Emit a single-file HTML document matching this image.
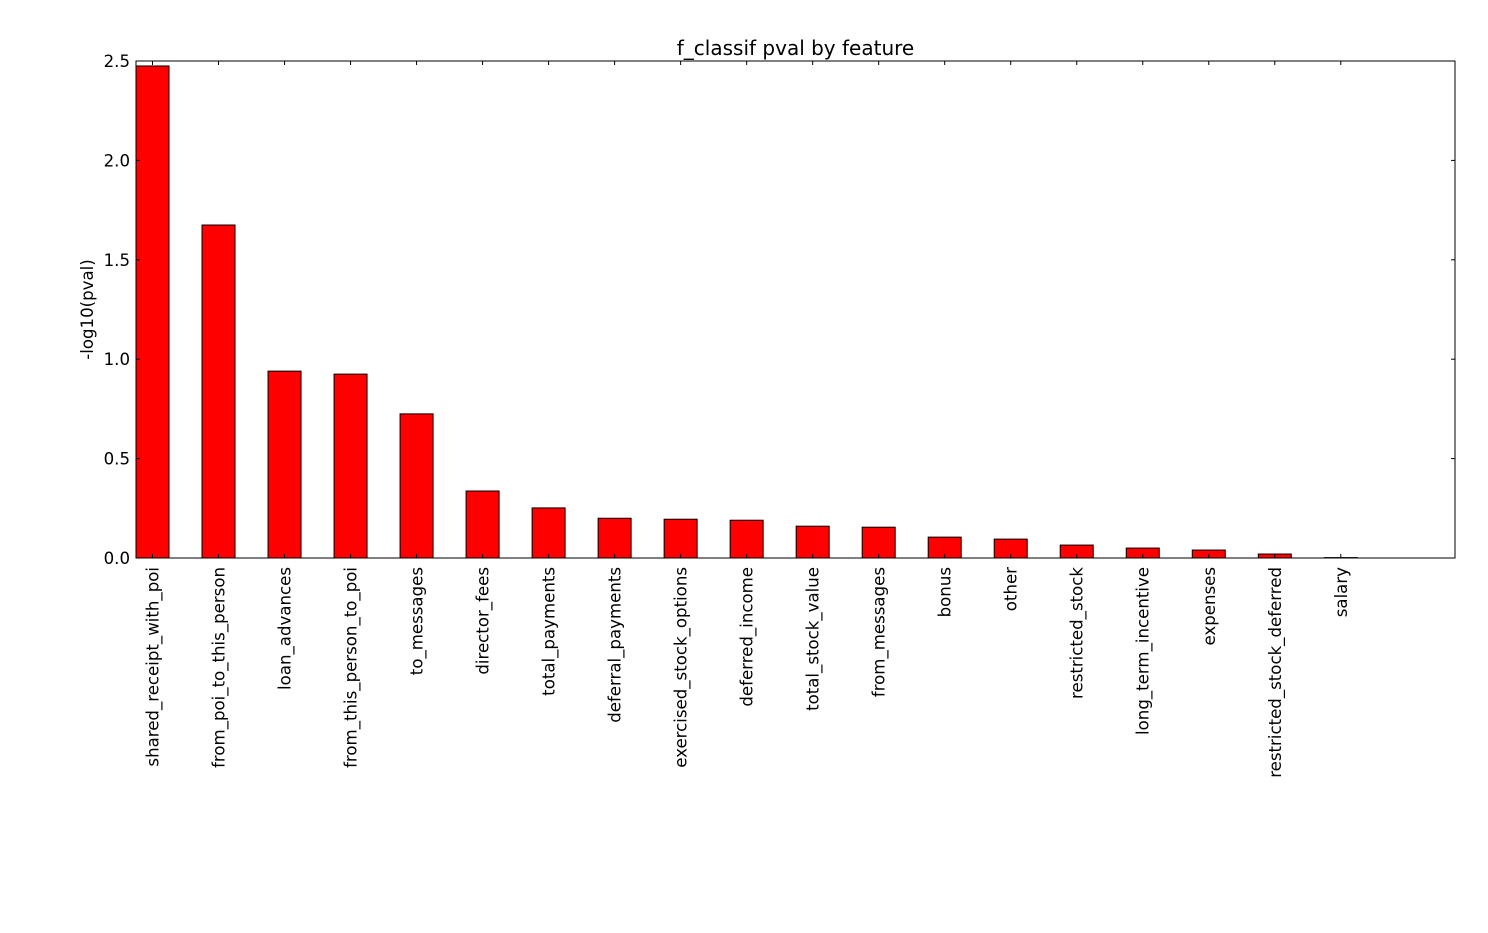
<!DOCTYPE html>
<html><head><meta charset="utf-8"><style>
body{margin:0;background:#fff}
svg text{font-family:"DejaVu Sans","Liberation Sans",sans-serif;fill:#000}
</style></head><body>
<svg width="1488" height="928">
<g id="plot"></g>
</svg>
<script>
const categories=["shared_receipt_with_poi","from_poi_to_this_person","loan_advances","from_this_person_to_poi","to_messages","director_fees","total_payments","deferral_payments","exercised_stock_options","deferred_income","total_stock_value","from_messages","bonus","other","restricted_stock","long_term_incentive","expenses","restricted_stock_deferred","salary"];
const values=[2.475,1.675,0.94,0.925,0.725,0.337,0.252,0.20,0.195,0.19,0.16,0.155,0.105,0.095,0.065,0.05,0.04,0.02,0.002];
const yTicks=[0,0.5,1,1.5,2,2.5];
const yTickLabels=["0.0","0.5","1.0","1.5","2.0","2.5"];
const L=136,R=1455,T=61,B=558;
const xMin=-0.25,xMax=19.73,yMax=2.5;
const x=v=>L+(v-xMin)/(xMax-xMin)*(R-L);
const y=v=>B-v/yMax*(B-T);
const g=document.getElementById('plot');
const NS='http://www.w3.org/2000/svg';
function mk(t,a){const e=document.createElementNS(NS,t);for(const k in a)e.setAttribute(k,a[k]);g.appendChild(e);return e;}
const bw=x(0.25)-x(-0.25);
values.forEach((v,i)=>{
 const r=mk('rect',{x:x(i)-bw/2,y:y(v),width:bw,height:B-y(v),fill:'#ff0000',stroke:'#000','stroke-width':1});
 
 
 const tk=mk('line',{x1:x(i),x2:x(i),y1:B,y2:B-4,stroke:'#000'});
 
 
 mk('line',{x1:x(i),x2:x(i),y1:T,y2:T+4,stroke:'#000'});
 const t=mk('text',{x:0,y:0,'font-size':16.6,'text-anchor':'end',transform:`translate(${x(i)+6},567) rotate(-90)`});
 t.textContent=categories[i];
 
 
});
yTicks.forEach((v,i)=>{
 mk('line',{x1:L,x2:L+4,y1:y(v),y2:y(v),stroke:'#000'});
 mk('line',{x1:R,x2:R-4,y1:y(v),y2:y(v),stroke:'#000'});
 const t=mk('text',{x:L-6,y:y(v)+6,'font-size':16.6,'text-anchor':'end'});
 t.textContent=yTickLabels[i];
 
 
});
const fr=mk('rect',{x:L,y:T,width:R-L,height:B-T,fill:'none',stroke:'#000','stroke-width':1});


const ti=mk('text',{x:(L+R)/2,y:55,'font-size':20,'text-anchor':'middle'});
ti.textContent='f_classif pval by feature';


const yl=mk('text',{x:0,y:0,'font-size':16.6,'text-anchor':'middle',transform:`translate(93,${(T+B)/2}) rotate(-90)`});
yl.textContent='-log10(pval)';


</script>
</body></html>
